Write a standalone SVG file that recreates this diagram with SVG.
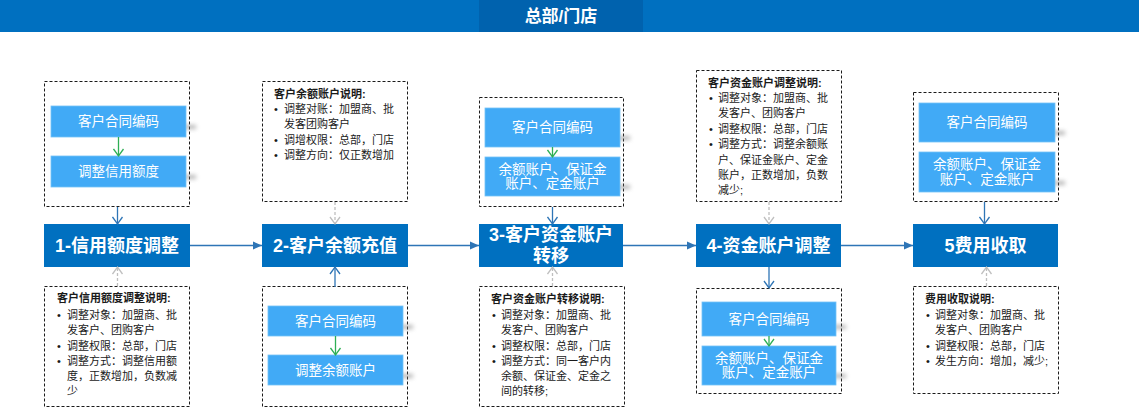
<svg xmlns="http://www.w3.org/2000/svg" width="1139" height="414" viewBox="0 0 1139 414">
<style>
text{font-family:"Liberation Sans","Noto Sans CJK SC",sans-serif;dominant-baseline:central}
.main{fill:#0070C0}
.mt{fill:#fff;font-size:18px;font-weight:bold;text-anchor:middle}
.inner{fill:#41AAF6;stroke:#74C2F8;stroke-width:0.8}
.shd{fill:#7a7a7a;opacity:0.55;filter:url(#bl)}
.it{fill:#fff;font-size:13.5px;text-anchor:middle}
.dash{fill:#fff;stroke:#1a1a1a;stroke-width:1;stroke-dasharray:3 2}
.nt{fill:#1a1a1a;font-size:11px}
.nh{fill:#1a1a1a;font-size:11px;font-weight:bold}
.blue{stroke:#2E75B6;stroke-width:1.3;fill:none}
.gray{stroke:#BFBFBF;stroke-width:1.3;fill:none;stroke-dasharray:3 2}
.green{stroke:#2EAF55;stroke-width:1.3;fill:none}
</style>
<defs>
<filter id="bl" x="-50%" y="-200%" width="200%" height="500%">
<feGaussianBlur stdDeviation="2"/>
</filter>
<marker id="af" markerUnits="userSpaceOnUse" markerWidth="10" markerHeight="10" refX="9" refY="5" orient="auto"><path d="M0,1 L9,5 L0,9 z" fill="#2E75B6"/></marker>
<marker id="ab" markerUnits="userSpaceOnUse" markerWidth="10" markerHeight="12" refX="8" refY="6" orient="auto"><path d="M1,1 L8,6 L1,11" fill="none" stroke="#2E75B6" stroke-width="1.3"/></marker>
<marker id="ag" markerUnits="userSpaceOnUse" markerWidth="10" markerHeight="12" refX="8" refY="6" orient="auto"><path d="M1,1 L8,6 L1,11" fill="none" stroke="#BFBFBF" stroke-width="1.3"/></marker>
<marker id="agr" markerUnits="userSpaceOnUse" markerWidth="10" markerHeight="12" refX="8" refY="6" orient="auto"><path d="M1,1 L8,6 L1,11" fill="none" stroke="#2EAF55" stroke-width="1.3"/></marker>
</defs>
<rect width="1139" height="414" fill="#fff"/>
<g id="header">
<rect x="0" y="0" width="1139" height="32" fill="#0070C0"/>
<rect x="479" y="0" width="164" height="32" fill="#0062AE"/>
<text x="561" y="16" fill="#fff" font-size="17" font-weight="bold" text-anchor="middle">总部/门店</text>
</g>

<!-- column 1 -->
<g id="group1">
<rect class="dash" x="44.5" y="81.5" width="145" height="125"/>
<rect class="shd" x="176" y="125" width="20" height="4"/>
<rect class="shd" x="176" y="175" width="20" height="4"/>
<rect class="inner" x="51" y="106" width="135" height="31"/>
<text class="it" x="118.5" y="121.5">客户合同编码</text>
<rect class="inner" x="51" y="156" width="135" height="31"/>
<text class="it" x="118.5" y="171.5">调整信用额度</text>
</g>
<g id="node1">
<rect class="main" x="44" y="224" width="146" height="43"/>
<text class="mt" x="117" y="245.5">1-信用额度调整</text>
</g>
<g id="note1">
<rect class="dash" x="44.5" y="286.5" width="145" height="120"/>
<text class="nh" x="57" y="298">客户信用额度调整说明:</text>
<text class="nt" x="57" y="315">•</text><text class="nt" x="67" y="315">调整对象：加盟商、批</text>
<text class="nt" x="67" y="330">发客户、团购客户</text>
<text class="nt" x="57" y="346">•</text><text class="nt" x="67" y="346">调整权限：总部，门店</text>
<text class="nt" x="57" y="361">•</text><text class="nt" x="67" y="361">调整方式：调整信用额</text>
<text class="nt" x="67" y="376">度，正数增加，负数减</text>
<text class="nt" x="67" y="391">少</text>
</g>

<!-- column 2 -->
<g id="note2">
<rect class="dash" x="262.5" y="81.5" width="145" height="120"/>
<text class="nh" x="274" y="94">客户余额账户说明:</text>
<text class="nt" x="274" y="109">•</text><text class="nt" x="284" y="109">调整对账：加盟商、批</text>
<text class="nt" x="284" y="124">发客团购客户</text>
<text class="nt" x="274" y="140">•</text><text class="nt" x="284" y="140">调增权限：总部，门店</text>
<text class="nt" x="274" y="155">•</text><text class="nt" x="284" y="155">调整方向：仅正数增加</text>
</g>
<g id="node2">
<rect class="main" x="262" y="224" width="146" height="43"/>
<text class="mt" x="335" y="245.5">2-客户余额充值</text>
</g>
<g id="group2">
<rect class="dash" x="262.5" y="286.5" width="145" height="120"/>
<rect class="shd" x="393" y="325" width="20" height="4"/>
<rect class="shd" x="393" y="374" width="20" height="4"/>
<rect class="inner" x="268" y="306" width="135" height="30"/>
<text class="it" x="335.5" y="321">客户合同编码</text>
<rect class="inner" x="268" y="355" width="135" height="30"/>
<text class="it" x="335.5" y="370">调整余额账户</text>
</g>

<!-- column 3 -->
<g id="group3">
<rect class="dash" x="479.5" y="97.5" width="144" height="109"/>
<rect class="shd" x="610" y="136" width="20" height="4"/>
<rect class="shd" x="610" y="185" width="20" height="4"/>
<rect class="inner" x="485" y="108" width="135" height="39"/>
<text class="it" x="552.5" y="127.5">客户合同编码</text>
<rect class="inner" x="485" y="157" width="135" height="39"/>
<text class="it" x="552.5" y="169.5">余额账户、保证金</text>
<text class="it" x="552.5" y="183.5">账户、定金账户</text>
</g>
<g id="node3">
<rect class="main" x="479" y="224" width="144" height="43"/>
<text class="mt" x="551" y="235">3-客户资金账户</text>
<text class="mt" x="551" y="256">转移</text>
</g>
<g id="note3">
<rect class="dash" x="479.5" y="286.5" width="145" height="120"/>
<text class="nh" x="491" y="299">客户资金账户转移说明:</text>
<text class="nt" x="492" y="315">•</text><text class="nt" x="501" y="315">调整对象：加盟商、批</text>
<text class="nt" x="501" y="330">发客户、团购客户</text>
<text class="nt" x="492" y="346">•</text><text class="nt" x="501" y="346">调整权限：总部，门店</text>
<text class="nt" x="492" y="361">•</text><text class="nt" x="501" y="361">调整方式：同一客户内</text>
<text class="nt" x="501" y="376">余额、保证金、定金之</text>
<text class="nt" x="501" y="391">间的转移;</text>
</g>

<!-- column 4 -->
<g id="note4">
<rect class="dash" x="696.5" y="70.5" width="145" height="131"/>
<text class="nh" x="708" y="83">客户资金账户调整说明:</text>
<text class="nt" x="709" y="98">•</text><text class="nt" x="718" y="98">调整对象：加盟商、批</text>
<text class="nt" x="718" y="113">发客户、团购客户</text>
<text class="nt" x="709" y="129">•</text><text class="nt" x="718" y="129">调整权限：总部，门店</text>
<text class="nt" x="709" y="144">•</text><text class="nt" x="718" y="144">调整方式：调整余额账</text>
<text class="nt" x="718" y="160">户、保证金账户、定金</text>
<text class="nt" x="718" y="175">账户，正数增加，负数</text>
<text class="nt" x="718" y="190">减少;</text>
</g>
<g id="node4">
<rect class="main" x="696" y="224" width="145" height="43"/>
<text class="mt" x="768.5" y="245.5">4-资金账户调整</text>
</g>
<g id="group4">
<rect class="dash" x="696.5" y="288.5" width="145" height="105"/>
<rect class="shd" x="826" y="325" width="20" height="4"/>
<rect class="shd" x="826" y="374" width="20" height="4"/>
<rect class="inner" x="702" y="302" width="134" height="34"/>
<text class="it" x="769" y="319">客户合同编码</text>
<rect class="inner" x="702" y="346" width="134" height="39"/>
<text class="it" x="769" y="358">余额账户、保证金</text>
<text class="it" x="769" y="372">账户、定金账户</text>
</g>

<!-- column 5 -->
<g id="group5">
<rect class="dash" x="913.5" y="92.5" width="145" height="109"/>
<rect class="shd" x="1045" y="131" width="20" height="4"/>
<rect class="shd" x="1045" y="181" width="20" height="4"/>
<rect class="inner" x="919" y="103" width="136" height="39"/>
<text class="it" x="987" y="122.5">客户合同编码</text>
<rect class="inner" x="919" y="152" width="136" height="40"/>
<text class="it" x="987" y="164.5">余额账户、保证金</text>
<text class="it" x="987" y="179">账户、定金账户</text>
</g>
<g id="node5">
<rect class="main" x="913" y="224" width="145" height="43"/>
<text class="mt" x="985.5" y="245.5">5费用收取</text>
</g>
<g id="note5">
<rect class="dash" x="913.5" y="286.5" width="145" height="107"/>
<text class="nh" x="925" y="299">费用收取说明:</text>
<text class="nt" x="926" y="315">•</text><text class="nt" x="935" y="315">调整对象：加盟商、批</text>
<text class="nt" x="935" y="330">发客户、团购客户</text>
<text class="nt" x="926" y="346">•</text><text class="nt" x="935" y="346">调整权限：总部，门店</text>
<text class="nt" x="926" y="361">•</text><text class="nt" x="935" y="361">发生方向：增加，减少;</text>
</g>

<g id="connectors">
<line class="blue" x1="190" y1="245.5" x2="262" y2="245.5" marker-end="url(#af)"/>
<line class="blue" x1="408" y1="245.5" x2="479" y2="245.5" marker-end="url(#af)"/>
<line class="blue" x1="623" y1="245.5" x2="696" y2="245.5" marker-end="url(#af)"/>
<line class="blue" x1="841" y1="245.5" x2="913" y2="245.5" marker-end="url(#af)"/>
<line class="green" x1="118.5" y1="137" x2="118.5" y2="156" marker-end="url(#agr)"/>
<line class="green" x1="335.5" y1="336" x2="335.5" y2="355" marker-end="url(#agr)"/>
<line class="green" x1="552.5" y1="147" x2="552.5" y2="157" marker-end="url(#agr)"/>
<line class="green" x1="769" y1="336" x2="769" y2="346" marker-end="url(#agr)"/>
<line class="blue" x1="117.5" y1="207" x2="117.5" y2="224" marker-end="url(#ab)"/>
<line class="blue" x1="335" y1="287" x2="335" y2="267" marker-end="url(#ab)"/>
<line class="blue" x1="552.5" y1="207" x2="552.5" y2="224" marker-end="url(#ab)"/>
<line class="blue" x1="769" y1="267" x2="769" y2="288" marker-end="url(#ab)"/>
<line class="blue" x1="984.5" y1="202" x2="984.5" y2="224" marker-end="url(#ab)"/>
<line class="gray" x1="117.5" y1="286" x2="117.5" y2="267" marker-end="url(#ag)"/>
<line class="gray" x1="335" y1="202" x2="335" y2="224" marker-end="url(#ag)"/>
<line class="gray" x1="552.5" y1="286" x2="552.5" y2="267" marker-end="url(#ag)"/>
<line class="gray" x1="769" y1="202" x2="769" y2="224" marker-end="url(#ag)"/>
<line class="gray" x1="986.5" y1="286" x2="986.5" y2="267" marker-end="url(#ag)"/>
</g>
</svg>
